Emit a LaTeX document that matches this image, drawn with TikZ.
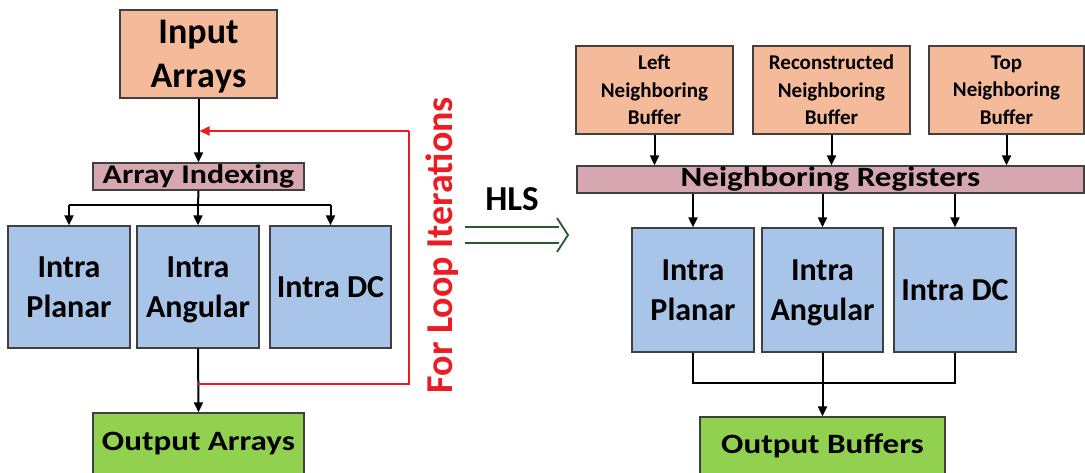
\documentclass[tikz,border=0pt]{standalone}
\usepackage{fontspec}
\setmainfont{Carlito}
\newfontfamily\widefont{Carlito}[FakeStretch=1.18]
\usetikzlibrary{arrows.meta}
\definecolor{cOrange}{RGB}{245,186,154}
\definecolor{cPink}{RGB}{214,166,177}
\definecolor{cBlue}{RGB}{169,196,233}
\definecolor{cGreen}{RGB}{146,208,80}
\definecolor{cRed}{RGB}{237,28,36}
\definecolor{cHls}{RGB}{40,90,50}
\tikzset{
  box/.style={draw=black!75, line width=1.3pt, inner sep=0pt, align=center, font=\bfseries},
  obox/.style={box, fill=cOrange},
  pbox/.style={box, fill=cPink},
  bbox/.style={box, fill=cBlue, minimum width=122pt, minimum height=122pt, font=\bfseries\fontsize{32}{40}\selectfont},
  gbox/.style={box, fill=cGreen},
  wire/.style={line width=2pt, black},
  arr/.style={wire, -{Triangle[length=10pt,width=9pt]}},
  loopline/.style={line width=2pt, cRed},
}
\begin{document}
\begin{tikzpicture}[x=1pt,y=-1pt]
\clip (0,0) rectangle (1085,472);
\fill[white] (0,0) rectangle (1085,472);
% ---------- left ----------
\node[obox, minimum width=157pt, minimum height=88pt, font=\bfseries\fontsize{36}{44}\selectfont] (inp) at (198.5,54) {Input\\Arra\smash{y}s};
\node[pbox, minimum width=211pt, minimum height=27pt, font=\widefont\bfseries\fontsize{27}{30}\selectfont] (idx) at (198.5,176.5) {Array Indexing};
\node[bbox] (lp) at (69,287) {Intra\\Planar};
\node[bbox] (la) at (198,287) {Intra\\An\smash{g}ular};
\node[bbox, minimum width=121pt] (ld) at (330.5,287) {Intra DC};
\node[gbox, minimum width=211pt, minimum height=62pt, font=\widefont\bfseries\fontsize{28}{32}\selectfont] (lo) at (198.5,444) {Output Arrays};

\draw[arr] (inp.south) -- (idx.north);
\coordinate (br) at (198,205);
\draw[wire] (idx.south) -- (br);
\draw[wire] (br -| lp.north) -- (br -| ld.north);
\draw[arr] (br -| lp.north) -- (lp.north);
\draw[arr] (br) -- (la.north);
\draw[arr] (br -| ld.north) -- (ld.north);
\draw[arr] (la.south) -- (lo.north);

\coordinate (r1) at (409,131);
\coordinate (r2) at (409,384);
\draw[loopline] (la.south |- r2) -- (r2) -- (r1);
\draw[loopline, -{Triangle[length=10pt,width=9pt]}, shorten >=1pt] (r1) -- (inp.south |- r1);

\node[rotate=90, anchor=base, text=cRed, font=\bfseries\fontsize{38}{40}\selectfont, inner sep=0pt] (loop) at (452,245) {For Loop Iterations};

% ---------- HLS ----------
\node[anchor=base, font=\bfseries\fontsize{35}{40}\selectfont, inner sep=0pt] (hls) at (512,210) {HLS};
\coordinate (h1) at (465,227);
\coordinate (h2) at (465,243);
\coordinate (h3) at (559,227);
\coordinate (h4) at (559,243);
\coordinate (ht) at (568,235);
\coordinate (hu) at (557,218);
\coordinate (hd) at (557,252);
\draw[cHls, line width=1.8pt] (h1) -- (h3) (h2) -- (h4);
\draw[cHls, line width=1.8pt, line join=miter] (hu) -- (ht) -- (hd);

% ---------- right ----------
\node[obox, minimum width=157pt, minimum height=88pt, font=\bfseries\fontsize{21}{27.5}\selectfont] (lb) at (654.5,90) {Left\\Neighboring\\Buffer};
\node[obox, minimum width=157pt, minimum height=88pt, font=\bfseries\fontsize{21}{27.5}\selectfont] (rb) at (831.5,90) {Reconstructed\\Neighboring\\Buffer};
\node[obox, minimum width=155pt, minimum height=88pt, font=\bfseries\fontsize{21}{27.5}\selectfont] (tb) at (1006.5,90) {Top\\Neighboring\\Buffer};
\node[pbox, minimum width=507pt, minimum height=27pt, font=\widefont\bfseries\fontsize{28}{30}\selectfont] (reg) at (830.5,179.5) {Neighboring Registers};
\node[bbox, minimum height=124pt] (rp) at (693,290) {Intra\\Planar};
\node[bbox, minimum height=124pt, minimum width=121pt] (ra) at (822.5,290) {Intra\\An\smash{g}ular};
\node[bbox, minimum height=124pt] (rd) at (955,290) {Intra DC};
\node[gbox, minimum width=245pt, minimum height=58pt, font=\widefont\bfseries\fontsize{28}{32}\selectfont] (ro) at (822.5,446) {Output Buffers};

\draw[arr] (lb.south) -- (lb.south |- reg.north);
\draw[arr] (rb.south) -- (rb.south |- reg.north);
\draw[arr] (tb.south) -- (tb.south |- reg.north);
\draw[arr] (rp.north |- reg.south) -- (rp.north);
\draw[arr] (ra.north |- reg.south) -- (ra.north);
\draw[arr] (rd.north |- reg.south) -- (rd.north);
\coordinate (m) at (822,383);
\draw[wire] (rp.south) -- (rp.south |- m) -- (rd.south |- m) -- (rd.south);
\draw[arr] (ra.south) -- (ro.north);
\end{tikzpicture}
\end{document}
